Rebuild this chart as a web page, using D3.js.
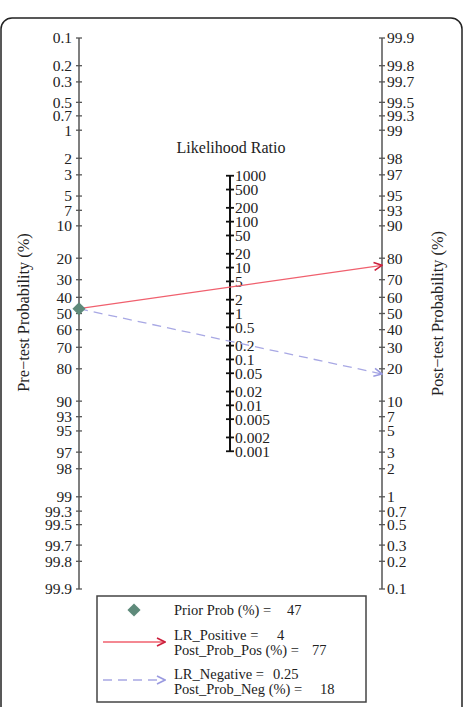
<!doctype html>
<html lang="en">
<head>
<meta charset="UTF-8">
<title>Fagan nomogram</title>
<script src="https://cdn.jsdelivr.net/npm/d3@7"></script>
<style>
    body{ margin:0; background:#fff; }
    text{ font-family:"Liberation Serif","Times New Roman",serif; fill:#222; }
    .axisLine{ stroke:#555; stroke-width:1.5px; }
    .lrLine{ stroke:#111; stroke-width:2px; }
    .tick{ stroke:#555; stroke-width:1.3px; }
    .lrTick{ stroke:#111; stroke-width:1.8px; }
</style>
</head>
<body>
<svg width="463" height="707"></svg>
<script>
    // tick values on the probability axes (%)
    const probTicks = [0.1,0.2,0.3,0.5,0.7,1,2,3,5,7,10,20,30,40,50,60,70,80,90,93,95,97,98,99,99.3,99.5,99.7,99.8,99.9];
    // tick values on the likelihood ratio axis
    const lrTicks = [1000,500,200,100,50,20,10,5,2,1,0.5,0.2,0.1,0.05,0.02,0.01,0.005,0.002,0.001];
    // results
    const priorProb = 47;
    const lrPositive = 4;
    const postProbPos = 77;
    const lrNegative = 0.25;
    const postProbNeg = 18;

    const logit = p => Math.log(p/(1-p));
    const lmax = logit(0.999);

    const xLeft = 79, xMid = 230, xRight = 382;
    const yTop = 38, yBot = 589;
    const yC = (yTop+yBot)/2;

    // left axis: pre-test logit, low at top
    let yPre = d3.scaleLinear().domain([-lmax, lmax]).range([yTop, yBot]);
    // right axis: post-test logit, high at top
    let yPost = d3.scaleLinear().domain([lmax, -lmax]).range([yTop, yBot]);
    // middle: log LR with half the scale
    let half = (yC-yTop)/lmax/2;
    let yLR = d3.scaleLog().domain([1000, 0.001])
        .range([yC - half*Math.log(1000), yC + half*Math.log(1000)]);

    let svg = d3.select("svg");

    // outer frame
    svg.append("rect")
        .attr("x",1).attr("y",18).attr("width",461).attr("height",720)
        .attr("rx",11)
        .attr("fill","none").attr("stroke","#222").attr("stroke-width",1.5);

    // left axis
    svg.append("line").attr("class","axisLine")
        .attr("x1",xLeft).attr("x2",xLeft).attr("y1",yTop).attr("y2",yBot);
    let lt = svg.append("g").selectAll("g").data(probTicks).enter().append("g")
        .attr("transform",d=>`translate(0,${yPre(logit(d/100))})`);
    lt.append("line").attr("class","tick").attr("x1",xLeft-3).attr("x2",xLeft+3);
    lt.append("text").attr("x",xLeft-7).attr("dy","0.35em")
        .attr("text-anchor","end").style("font-size","15.5px").text(d=>d);

    // right axis
    svg.append("line").attr("class","axisLine")
        .attr("x1",xRight).attr("x2",xRight).attr("y1",yTop).attr("y2",yBot);
    let rt = svg.append("g").selectAll("g").data(probTicks).enter().append("g")
        .attr("transform",d=>`translate(0,${yPost(logit(d/100))})`);
    rt.append("line").attr("class","tick").attr("x1",xRight-3).attr("x2",xRight+3);
    rt.append("text").attr("x",xRight+5).attr("dy","0.35em")
        .style("font-size","15.5px").text(d=>d);

    // middle LR axis
    svg.append("line").attr("class","lrLine")
        .attr("x1",xMid).attr("x2",xMid).attr("y1",yLR(1000)).attr("y2",yLR(0.001));
    let mt = svg.append("g").selectAll("g").data(lrTicks).enter().append("g")
        .attr("transform",d=>`translate(0,${yLR(d)})`);
    mt.append("line").attr("class","lrTick").attr("x1",xMid-4).attr("x2",xMid+4);
    mt.append("text").attr("x",xMid+5).attr("dy","0.35em")
        .style("font-size","15.5px").text(d=>d);

    svg.append("text").attr("x",xMid+1).attr("y",153).attr("text-anchor","middle")
        .style("font-size","16px").text("Likelihood Ratio");

    // axis titles
    svg.append("text").attr("transform",`translate(29,${yC-1}) rotate(-90)`)
        .attr("text-anchor","middle").style("font-size","16.3px").text("Pre\u2212test Probability (%)");
    svg.append("text").attr("transform",`translate(443,${yC}) rotate(-90)`)
        .attr("text-anchor","middle").style("font-size","16.3px").text("Post\u2212test Probability (%)");

    // arrow markers
    let defs = svg.append("defs");
    function marker(id, color){
        defs.append("marker").attr("id",id)
            .attr("viewBox","0 0 10 10").attr("refX",9).attr("refY",5)
            .attr("markerWidth",10).attr("markerHeight",10)
            .attr("markerUnits","userSpaceOnUse").attr("orient","auto")
            .append("path").attr("d","M1,1 L9,5 L1,9")
            .attr("fill","none").attr("stroke",color).attr("stroke-width",1.6);
    }
    marker("arrPos","#cc1f3c");
    marker("arrNeg","#9a9ae0");

    let y0 = yPre(logit(priorProb/100));
    svg.append("line")
        .attr("x1",xLeft).attr("y1",y0)
        .attr("x2",xRight).attr("y2",yPost(logit(postProbPos/100)))
        .attr("stroke","#f0606e").attr("stroke-width",1.3)
        .attr("marker-end","url(#arrPos)");
    svg.append("line")
        .attr("x1",xLeft).attr("y1",y0)
        .attr("x2",xRight).attr("y2",yPost(logit(postProbNeg/100)))
        .attr("stroke","#a8a8e4").attr("stroke-width",1.3)
        .attr("stroke-dasharray","9,6")
        .attr("marker-end","url(#arrNeg)");

    const diamond = d3.symbol().type(d3.symbolDiamond2).size(110);
    svg.append("path").attr("d",diamond())
        .attr("transform",`translate(${xLeft},${y0})`)
        .attr("fill","#5e8a7a");

    // legend
    let lg = svg.append("g");
    lg.append("rect").attr("x",97).attr("y",596).attr("width",269).attr("height",106)
        .attr("fill","#fff").attr("stroke","#444").attr("stroke-width",1.5);
    lg.append("path").attr("d",diamond())
        .attr("transform","translate(134,610)").attr("fill","#5e8a7a");
    lg.append("line").attr("x1",103).attr("x2",165).attr("y1",642).attr("y2",642)
        .attr("stroke","#f0606e").attr("stroke-width",1.3).attr("marker-end","url(#arrPos)");
    lg.append("line").attr("x1",103).attr("x2",165).attr("y1",680).attr("y2",680)
        .attr("stroke","#a8a8e4").attr("stroke-width",1.3).attr("stroke-dasharray","9,6")
        .attr("marker-end","url(#arrNeg)");

    const legendText = [
        {x:174, y:615, t:"Prior Prob (%) ="}, {x:287, y:615, t:String(priorProb)},
        {x:174, y:640, t:"LR_Positive ="}, {x:277, y:640, t:String(lrPositive)},
        {x:174, y:655, t:"Post_Prob_Pos (%) ="}, {x:312, y:655, t:String(postProbPos)},
        {x:174, y:679, t:"LR_Negative ="}, {x:273, y:679, t:String(lrNegative)},
        {x:174, y:694, t:"Post_Prob_Neg (%) ="}, {x:320, y:694, t:String(postProbNeg)}
    ];
    lg.selectAll("text.leg").data(legendText).enter().append("text")
        .attr("class","leg").attr("x",d=>d.x).attr("y",d=>d.y)
        .style("font-size","14.5px").text(d=>d.t);
</script>
</body>
</html>
